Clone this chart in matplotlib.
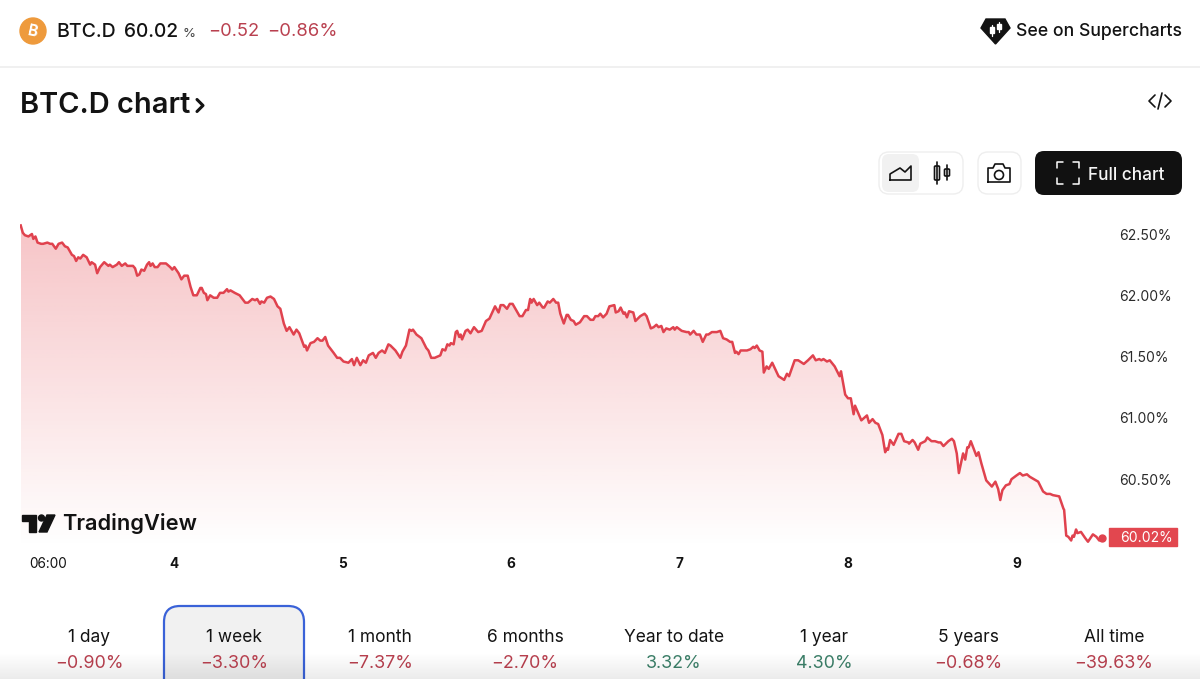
import numpy as np
import matplotlib
matplotlib.use("Agg")
import matplotlib.pyplot as plt
from matplotlib.patches import FancyBboxPatch, Polygon, Circle, Rectangle

plt.rcParams['font.family'] = ['Inter', 'DejaVu Sans']

# hours since 02:00 on the 3rd, BTC dominance in percent
hours = [
    0.1, 0.4, 0.7, 1.2, 1.7, 1.9, 2.2, 2.5, 3.0, 3.3, 3.9, 4.3, 4.6, 5.1, 5.5, 6.0, 6.4, 6.8, 7.4, 7.7,
    8.0, 8.3, 8.6, 9.0, 9.5, 10.0, 10.2, 10.7, 11.0, 11.4, 12.0, 12.6, 12.8, 13.2, 13.8, 14.1, 14.5, 15.0, 15.3, 16.1,
    16.4, 16.7, 17.0, 17.3, 17.7, 18.1, 18.4, 18.6, 18.9, 19.2, 19.6, 20.0, 20.8, 21.4, 21.7, 22.0, 22.6, 23.0, 23.4, 23.9,
    24.3, 24.7, 25.2, 25.7, 25.9, 26.2, 26.5, 26.7, 27.1, 27.6, 28.1, 28.5, 29.0, 29.5, 29.7, 30.0, 30.6, 31.3, 32.1, 32.5,
    33.1, 33.5, 33.8, 34.2, 34.4, 34.8, 35.2, 35.7, 36.2, 36.7, 37.1, 37.6, 38.0, 38.4, 39.0, 39.4, 39.8, 40.5, 40.7, 40.9,
    41.4, 41.9, 42.4, 42.8, 43.1, 43.5, 43.9, 44.7, 45.2, 45.6, 46.1, 46.8, 47.3, 47.6, 48.0, 48.5, 48.9, 49.3, 49.7, 50.3,
    50.7, 51.1, 51.6, 52.0, 52.5, 52.8, 53.5, 54.2, 54.5, 55.0, 55.5, 55.8, 56.0, 56.5, 57.2, 57.9, 58.2, 58.6, 59.1, 59.9,
    60.2, 60.6, 60.9, 61.2, 61.4, 61.8, 62.1, 62.3, 62.6, 62.8, 63.0, 63.5, 63.8, 64.2, 64.7, 65.3, 65.8, 66.4, 66.9, 67.7,
    68.2, 68.5, 68.9, 69.4, 69.8, 70.2, 71.2, 71.6, 72.1, 72.4, 72.7, 72.9, 73.2, 73.7, 74.0, 74.5, 74.7, 75.2, 75.5, 76.0,
    76.4, 76.7, 77.0, 77.5, 77.9, 78.1, 78.5, 78.9, 79.2, 79.8, 80.4, 80.8, 81.3, 81.7, 82.0, 82.4, 82.7, 83.1, 83.6, 84.0,
    84.7, 84.9, 85.3, 85.6, 86.0, 86.2, 86.5, 86.8, 87.4, 87.7, 88.4, 89.0, 89.3, 89.9, 90.3, 90.7, 91.0, 91.4, 91.7, 92.1,
    92.6, 93.1, 93.3, 93.6, 94.3, 95.0, 95.3, 95.5, 96.0, 96.4, 96.9, 97.3, 97.8, 98.1, 98.6, 99.3, 99.8, 100.2, 100.7, 101.2,
    101.5, 101.9, 102.1, 102.4, 102.7, 103.6, 104.1, 104.5, 104.7, 105.0, 105.4, 105.8, 106.0, 106.4, 106.7, 107.2, 108.1, 108.9, 109.3, 109.6,
    110.4, 110.9, 111.7, 112.3, 113.0, 113.4, 113.9, 114.2, 114.5, 115.0, 115.4, 116.1, 116.8, 117.0, 117.6, 118.0, 118.4, 118.8, 119.0, 119.9,
    120.7, 121.0, 121.5, 121.9, 122.3, 122.9, 123.3, 123.5, 123.7, 124.0, 124.5, 125.2, 125.6, 126.0, 126.6, 126.7, 127.2, 127.5, 128.0, 128.3,
    129.0, 129.3, 129.9, 130.4, 130.9, 131.2, 131.6, 132.3, 132.8, 133.1, 133.5, 133.8, 134.1, 134.4, 134.7, 135.0, 135.2, 135.5, 136.3, 136.6,
    137.0, 137.7, 138.5, 139.0, 139.4, 139.7, 140.0, 140.5, 141.0, 141.3, 142.0, 142.5, 142.9, 143.5, 143.9, 145.1, 145.8, 146.3, 146.8, 147.2,
    148.1, 148.7, 148.8, 149.1, 149.4, 149.8, 150.0, 150.2, 150.5, 150.7, 151.2, 151.8, 152.2, 152.9, 153.4, 153.8, 154.2,
]
dominance = [
    62.57, 62.51, 62.49, 62.48, 62.50, 62.46, 62.48, 62.43, 62.42, 62.42, 62.43, 62.42, 62.42, 62.38, 62.42, 62.43, 62.40, 62.39, 62.33, 62.32,
    62.28, 62.31, 62.30, 62.33, 62.31, 62.25, 62.27, 62.25, 62.18, 62.23, 62.27, 62.24, 62.25, 62.23, 62.25, 62.27, 62.24, 62.26, 62.24, 62.24,
    62.22, 62.16, 62.17, 62.21, 62.20, 62.25, 62.27, 62.24, 62.26, 62.23, 62.23, 62.26, 62.26, 62.23, 62.21, 62.23, 62.18, 62.13, 62.16, 62.16,
    62.07, 62.00, 62.00, 62.06, 62.06, 62.02, 62.01, 61.96, 62.00, 61.98, 61.98, 62.02, 62.02, 62.05, 62.03, 62.04, 62.02, 62.00, 61.94, 61.94,
    61.97, 61.96, 61.97, 61.93, 61.95, 61.94, 61.98, 61.99, 61.97, 61.91, 61.89, 61.77, 61.71, 61.74, 61.68, 61.72, 61.69, 61.58, 61.59, 61.55,
    61.61, 61.62, 61.65, 61.63, 61.63, 61.66, 61.59, 61.53, 61.49, 61.49, 61.46, 61.45, 61.48, 61.43, 61.49, 61.43, 61.47, 61.45, 61.51, 61.53,
    61.49, 61.53, 61.55, 61.53, 61.60, 61.59, 61.55, 61.49, 61.54, 61.59, 61.72, 61.71, 61.72, 61.68, 61.65, 61.57, 61.55, 61.49, 61.49, 61.51,
    61.56, 61.55, 61.60, 61.59, 61.61, 61.60, 61.70, 61.71, 61.66, 61.68, 61.64, 61.71, 61.72, 61.69, 61.74, 61.70, 61.71, 61.79, 61.81, 61.91,
    61.86, 61.92, 61.92, 61.89, 61.93, 61.93, 61.83, 61.83, 61.88, 61.88, 61.97, 61.94, 61.97, 61.92, 61.94, 61.90, 61.90, 61.95, 61.94, 61.97,
    61.94, 61.94, 61.85, 61.77, 61.84, 61.84, 61.80, 61.79, 61.76, 61.78, 61.83, 61.83, 61.80, 61.80, 61.83, 61.83, 61.85, 61.82, 61.85, 61.91,
    61.92, 61.86, 61.87, 61.90, 61.85, 61.86, 61.82, 61.87, 61.86, 61.79, 61.83, 61.85, 61.83, 61.73, 61.74, 61.76, 61.74, 61.75, 61.70, 61.73,
    61.72, 61.74, 61.72, 61.74, 61.71, 61.70, 61.70, 61.68, 61.71, 61.68, 61.68, 61.62, 61.68, 61.68, 61.70, 61.70, 61.71, 61.65, 61.64, 61.62,
    61.62, 61.53, 61.54, 61.52, 61.55, 61.55, 61.56, 61.58, 61.57, 61.59, 61.55, 61.54, 61.37, 61.42, 61.40, 61.45, 61.34, 61.31, 61.36, 61.34,
    61.47, 61.47, 61.44, 61.47, 61.51, 61.47, 61.48, 61.47, 61.48, 61.46, 61.47, 61.42, 61.34, 61.38, 61.19, 61.16, 61.16, 61.03, 61.10, 60.98,
    61.02, 60.96, 60.99, 60.96, 60.95, 60.86, 60.72, 60.75, 60.74, 60.82, 60.78, 60.87, 60.87, 60.81, 60.80, 60.79, 60.82, 60.80, 60.74, 60.79,
    60.81, 60.84, 60.81, 60.81, 60.80, 60.80, 60.77, 60.81, 60.83, 60.81, 60.71, 60.55, 60.63, 60.71, 60.66, 60.76, 60.76, 60.81, 60.69, 60.72,
    60.63, 60.49, 60.44, 60.48, 60.42, 60.33, 60.41, 60.45, 60.46, 60.50, 60.53, 60.55, 60.53, 60.54, 60.52, 60.48, 60.40, 60.38, 60.38, 60.37,
    60.36, 60.26, 60.25, 60.04, 60.03, 60.00, 60.04, 60.03, 60.09, 60.06, 60.07, 60.02, 59.99, 60.05, 60.03, 60.00, 60.02,
]

time_ticks = [4, 22, 46, 70, 94, 118, 142]
time_labels = ["06:00", "4", "5", "6", "7", "8", "9"]
price_ticks = [60.5, 61.0, 61.5, 62.0, 62.5]
price_labels = ["60.50%", "61.00%", "61.50%", "62.00%", "62.50%"]
last_price = 60.02

tab_names = ["1 day", "1 week", "1 month", "6 months", "Year to date", "1 year", "5 years", "All time"]
tab_changes = ["\u22120.90%", "\u22123.30%", "\u22127.37%", "\u22122.70%", "3.32%", "4.30%", "\u22120.68%", "\u221239.63%"]
tab_x = [89, 234, 380, 525, 674, 824, 968, 1114]

LINE = "#e0424e"
RED = "#b9404f"
GREEN = "#3c8069"
INK = "#131313"

W, H = 1200, 679
fig = plt.figure(figsize=(W / 100, H / 100), dpi=100, facecolor="white")

# price chart, placed in pixels
left, right, top, bottom = 20, 1102, 210, 548
ax = fig.add_axes([left / W, 1 - bottom / H, (right - left) / W, (bottom - top) / H])
ax.patch.set_alpha(0)
y_low = 62.5 - (bottom - 234) / 122.6
y_high = 62.5 + (234 - top) / 122.6

# area fades out towards the bottom
shade = np.zeros((256, 2, 4))
shade[..., :3] = matplotlib.colors.to_rgb("#e5474f")
shade[..., 3] = np.linspace(0.32, 0, 256)[:, None]
area = ax.fill_between(hours, dominance, y_low, color="none", linewidth=0)
im = ax.imshow(shade, extent=(hours[0], hours[-1], y_low, max(dominance)), aspect="auto", origin="upper", zorder=1)
im.set_clip_path(area.get_paths()[0], transform=ax.transData)
ax.plot(hours, dominance, color=LINE, lw=1.8, zorder=2, solid_joinstyle="round")
ax.plot(hours[-1], last_price, "o", color=LINE, ms=5, zorder=3, clip_on=False)
ax.set_xlim(0, (right - left) / 7.017)
ax.set_ylim(y_low, y_high)

for s in ax.spines.values():
    s.set_visible(False)
ax.yaxis.tick_right()
ax.set_yticks(price_ticks, price_labels, fontsize=10, color="#2a2a2a", va="center_baseline")
ax.set_xticks(time_ticks, time_labels, fontsize=9.8, color=INK)
ax.tick_params(axis="y", length=0, pad=12.5)
ax.tick_params(axis="x", length=0, pad=6.5)
for lab in ax.get_xticklabels()[1:]:
    lab.set_fontweight("bold")

# page furniture, in pixel coordinates
ui = fig.add_axes([0, 0, 1, 1])
ui.set_xlim(0, W)
ui.set_ylim(H, 0)
ui.axis("off")


def box(x0, y0, x1, y1, r, **kw):
    p = FancyBboxPatch((x0, y0), x1 - x0, y1 - y0, boxstyle=f"round,pad=0,rounding_size={r}", **kw)
    ui.add_patch(p)
    return p


def line(xs, ys, color=INK, lw=1.2):
    ui.plot(xs, ys, color=color, lw=lw, solid_capstyle="round", solid_joinstyle="round")


ui.plot([0, W], [67, 67], color="#eeeeee", lw=1.2)

# header row
ui.add_patch(Circle((33, 31), 13, color="#ee9a3c"))
ui.text(33, 31.5, "B", color="white", fontsize=11, fontweight="bold", rotation=-12, ha="center", va="center")
ui.text(56, 32, "BTC.D", fontsize=14, color=INK, va="center", fontweight="medium")
ui.text(124, 32, "60.02", fontsize=13.8, color=INK, va="center", fontweight="medium")
ui.text(182, 34, "%", fontsize=9.5, color="#444444", va="center")
ui.text(208, 32, "\u22120.52", fontsize=13.2, color=RED, va="center")
ui.text(267, 32, "\u22120.86%", fontsize=13.3, color=RED, va="center")

# supercharts badge
ui.add_patch(Polygon([(986, 19), (1005, 19), (1010, 28), (995.5, 44), (981, 28)], color=INK))
for cx, y0, y1 in [(992, 25, 36), (999, 22, 32)]:
    line([cx, cx], [y0, y1], "white", 0.9)
    ui.add_patch(Rectangle((cx - 2, y0 + 2), 4, y1 - y0 - 5, color="white"))
ui.text(1182, 32, "See on Supercharts", fontsize=12.7, color=INK, ha="right", va="center", fontweight="medium")

# title
ui.text(20, 105.5, "BTC.D chart", fontsize=20.9, color=INK, va="center", fontweight="semibold")
line([197, 203, 197], [99.5, 105.5, 111.5], INK, 2.2)

# embed icon
line([1155, 1149, 1155], [95, 101, 107])
line([1165, 1171, 1165], [95, 101, 107])
line([1162, 1158], [93, 109])

# chart style buttons
box(879, 152, 963, 194, 10, fc="white", ec="#eeeeee", lw=1)
box(882, 154, 919, 192, 7, fc="#f1f1f1", ec="none")
line([890, 890, 900, 905, 911, 911, 890], [180, 174, 168, 172, 166, 180, 180])
for cx, y0, y1, b0, b1 in [(937, 162, 184, 166, 180), (947, 165, 180, 169, 176)]:
    line([cx, cx], [y0, y1])
    box(cx - 2.5, b0, cx + 2.5, b1, 1, fc="white", ec=INK, lw=1.2)
box(978, 152, 1021, 194, 10, fc="white", ec="#eeeeee", lw=1)
line([988, 988, 993, 995, 1003, 1005, 1010, 1010, 988], [182, 168, 168, 164, 164, 168, 168, 182, 182])
ui.add_patch(Circle((999, 175), 4.5, fc="none", ec=INK, lw=1.2))

# full chart button
box(1035, 151, 1182, 195, 9, fc="#111111", ec="none")
for x0, xm, y0, ym in [(1057, 1063, 168, 162), (1079, 1073, 168, 162), (1057, 1063, 178, 184), (1079, 1073, 178, 184)]:
    line([x0, x0, xm], [y0, ym, ym], "white", 1.1)
ui.text(1088, 175, "Full chart", fontsize=12.4, color="#f5f5f5", va="center", fontweight="medium")

# watermark
ui.add_patch(Polygon([(22, 515), (36, 515), (36, 532), (29, 532), (29, 521), (22, 521)], color=INK))
ui.add_patch(Circle((41.5, 518), 3, color=INK))
ui.add_patch(Polygon([(47, 515), (55, 515), (47, 532), (39, 532)], color=INK))
ui.text(62.5, 523.5, "TradingView", fontsize=15.7, color=INK, va="center", fontweight="semibold")

# last price tag
ui.add_patch(Rectangle((1109, 528), 68, 18, color="#e2474f"))
ui.text(1120, 537.5, f"{last_price:.2f}%", fontsize=10, color="white", va="center")

# period tabs
box(164, 606, 304, 700, 16, fc="#f1f1f1", ec="#3a62d8", lw=1.6)
for x, name, change in zip(tab_x, tab_names, tab_changes):
    ui.text(x, 637.5, name, fontsize=12.5, color=INK, ha="center", va="center")
    ui.text(x, 664, change, fontsize=12.9, color=RED if change[0] == "\u2212" else GREEN, ha="center", va="center")

# soft shadow along the bottom edge
fade = np.zeros((64, 2, 4))
fade[..., 3] = np.linspace(0, 0.08, 64)[:, None]
ui.imshow(fade, extent=(0, W, H, 652), aspect="auto", origin="upper", zorder=5)
ui.set_xlim(0, W)
ui.set_ylim(H, 0)

fig.savefig("out.png", dpi=100)
